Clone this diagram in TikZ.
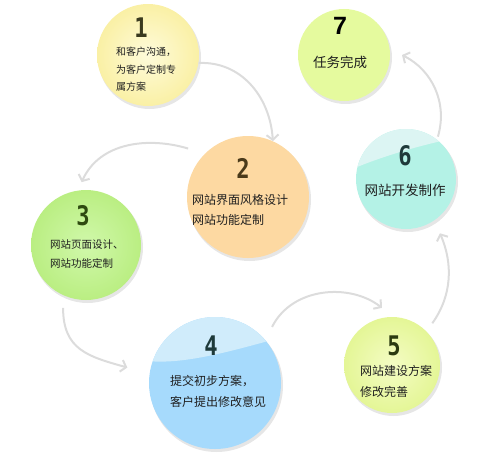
\documentclass[tikz,border=0pt]{standalone}
\usepackage{fontspec}
\newfontfamily\cjk{Noto Sans CJK SC}
\newfontfamily\digitfont[FakeStretch=0.82]{DejaVu Sans Mono}
\newfontfamily\sevenfont{Liberation Sans}
\usetikzlibrary{arrows.meta,calc,shadings}
\definecolor{arrowgray}{HTML}{DCDCDC}
\definecolor{shadowgray}{HTML}{E6E6E6}
\definecolor{cOneIn}{RGB}{254,251,218}
\definecolor{cOneOut}{RGB}{250,240,165}
\definecolor{cSeven}{RGB}{229,250,158}
\definecolor{cTwo}{RGB}{253,217,162}
\definecolor{cSix}{RGB}{180,242,230}
\definecolor{cSixCap}{RGB}{220,245,243}
\definecolor{cThreeIn}{RGB}{208,248,170}
\definecolor{cThreeOut}{RGB}{186,238,130}
\definecolor{cFour}{RGB}{166,218,252}
\definecolor{cFourCap}{RGB}{208,236,251}
\definecolor{cFiveIn}{RGB}{244,252,196}
\definecolor{cFiveOut}{RGB}{228,246,150}
\definecolor{dOne}{RGB}{58,58,30}
\definecolor{dTwo}{RGB}{74,58,26}
\definecolor{dTeal}{RGB}{30,58,58}
\definecolor{dThree}{RGB}{46,74,16}
\definecolor{dFive}{RGB}{42,58,16}
\tikzset{
  bubble/.style={circle,inner sep=0pt,draw=none},
  arr/.style={draw=arrowgray,line width=2pt,-{Straight Barb[length=5pt,width=12pt]}},
  digit/.style={font=\digitfont\bfseries\fontsize{27}{27}\selectfont,inner sep=0pt},
  label/.style={align=left,anchor=west,inner sep=0pt,text=black!88},
}
\begin{document}
\begin{tikzpicture}[x=1pt,y=1pt]
\useasboundingbox (0,0) rectangle (500,475);
% shadows
\foreach \x/\y/\r in {148/420/51,344/420/46,248/278/61,406/296/50,86/230/55,215/92/66,392/110/48}
  \fill[shadowgray] (\x+1.5,\y-2.5) circle[radius=\r+0.5];
% circles
\node[bubble,minimum size=102pt,inner color=cOneIn,outer color=cOneOut] (c1) at (148,420) {};
\node[bubble,minimum size=92pt,fill=cSeven] (c7) at (344,420) {};
\node[bubble,minimum size=122pt,fill=cTwo] (c2) at (248,278) {};
\node[bubble,minimum size=100pt,fill=cSix] (c6) at (406,296) {};
\node[bubble,minimum size=110pt,inner color=cThreeIn,outer color=cThreeOut] (c3) at (86,230) {};
\node[bubble,minimum size=132pt,fill=cFour] (c4) at (215,92) {};
\node[bubble,minimum size=96pt,inner color=cFiveIn,outer color=cFiveOut] (c5) at (392,110) {};
% light caps
\begin{scope}
  \clip (c4.center) circle[radius=66];
  \fill[cFourCap] (140,115) .. controls (180,108) and (235,125) .. (290,140) -- (290,170) -- (140,170) -- cycle;
\end{scope}
\begin{scope}
  \clip (c6.center) circle[radius=50];
  \fill[cSixCap] (350,305) .. controls (380,318) and (420,330) .. (460,338) -- (460,350) -- (350,350) -- cycle;
\end{scope}
% digits
\node[digit,text=dOne] (d1) at (141,447) {1};
\node[inner sep=0pt,font=\sevenfont\bfseries\fontsize{25}{25}\selectfont] (d7) at (340,449) {7};
\node[digit,text=dTwo] (d2) at (243,307) {2};
\node[digit,text=dTeal] (d6) at (405,319) {6};
\node[digit,text=dThree] (d3) at (83,259) {3};
\node[digit,text=dTeal] (d4) at (211,129) {4};
\node[digit,text=dFive] (d5) at (394,129) {5};
% texts
\node[label,font=\cjk\fontsize{10}{17.5}\selectfont] (t1) at (116,405.5) {和客户沟通，\\为客户定制专\\属方案};
\node[inner sep=0pt,text=black!88,font=\cjk\fontsize{13.5}{16}\selectfont] (t7) at (340,413) {任务完成};
\node[label,font=\cjk\fontsize{12}{20}\selectfont] (t2) at (192,265) {网站界面风格设计\\网站功能定制};
\node[inner sep=0pt,text=black!88,font=\cjk\fontsize{13.5}{16}\selectfont] (t6) at (405,285) {网站开发制作};
\node[label,font=\cjk\fontsize{10.5}{18.5}\selectfont] (t3) at (50,221) {网站页面设计、\\网站功能定制};
\node[label,font=\cjk\fontsize{12}{21}\selectfont] (t4) at (170,83.5) {提交初步方案，\\客户提出修改意见};
\node[label,font=\cjk\fontsize{12}{21}\selectfont] (t5) at (360,93.5) {网站建设方案\\修改完善};
% connectors
\draw[arr] (c1.-9) .. controls +(42,2) and +(-3,45) .. (c2.66);
\draw[arr] ($(c2.center)+(141:77)$) .. controls +(-40,12) and +(18,40) .. ($(c3.center)+(94:63)$);
\draw[arr] ($(c3.center)+(250:67)$) .. controls +(0,-42) and +(-39,11) .. ($(c4.center)+(170:89)$);
\draw[arr] ($(c4.center)+(44.5:80)$) .. controls +(20,40) and +(-32,25) .. ($(c5.center)+(100:58)$);
\draw[arr] ($(c5.center)+(46:58)$) .. controls +(20,28) and +(13,-30) .. ($(c6.center)+(-58:64)$);
\draw[arr] ($(c6.center)+(53:53)$) .. controls +(10,34) and +(30,-15) .. ($(c7.center)+(0:58)$);
\end{tikzpicture}
\end{document}
